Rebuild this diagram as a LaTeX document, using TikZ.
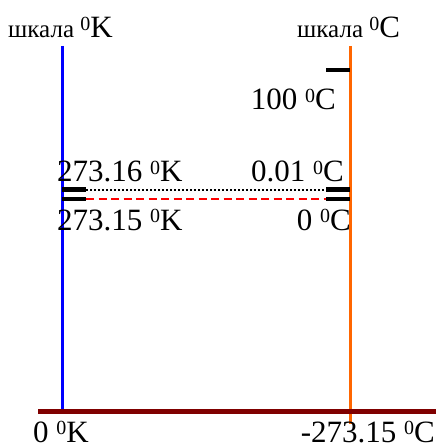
\documentclass[tikz,border=0pt]{standalone}
\usepackage{fontspec}
\setmainfont{Liberation Serif}
\newcommand{\supo}{\raisebox{7.5pt}{\fontsize{20}{20}\selectfont 0}}
\begin{document}
\begin{tikzpicture}[x=1pt,y=-1pt,
  every node/.style={inner sep=0pt,font=\fontsize{31}{33}\selectfont},
  lbl/.style={anchor=base west},
  lblr/.style={anchor=base east},
  ttl/.style={anchor=base west,font=\fontsize{25}{27}\selectfont},
  tick/.style={line width=4pt,black}]
\definecolor{scaleorange}{RGB}{255,102,0}
\definecolor{barred}{RGB}{128,0,0}
\useasboundingbox (0,0) rectangle (436,446);
\coordinate (kTop) at (62,46);
\coordinate (kBot) at (62,410);
\coordinate (cTop) at (350,46);
\coordinate (cBot) at (350,424);
\coordinate (barL) at (38,411.5);
\coordinate (barR) at (436,411.5);
\draw[line width=3pt,blue] (kTop) -- (kBot);
\draw[line width=3pt,scaleorange] (cTop) -- (cBot);
\draw[line width=5pt,barred] (barL) -- (barR);
% ticks
\coordinate (hundredA) at (326,70);
\coordinate (hundredB) at (350,70);
\draw[tick] (hundredA) -- (hundredB);
\coordinate (kTripA) at (62,189.5);
\coordinate (kTripB) at (86,189.5);
\coordinate (cTripA) at (326,189.5);
\coordinate (cTripB) at (350,189.5);
\coordinate (kMeltA) at (62,198.5);
\coordinate (kMeltB) at (86,198.5);
\coordinate (cMeltA) at (326,198.5);
\coordinate (cMeltB) at (350,198.5);
\draw[tick] (kTripA) -- (kTripB);
\draw[tick] (cTripA) -- (cTripB);
\draw[tick] (kMeltA) -- (kMeltB);
\draw[tick] (cMeltA) -- (cMeltB);
\draw[line width=2pt,dash pattern=on 2pt off 2pt] (kTripB) -- (cTripA);
\draw[line width=2pt,red,dash pattern=on 8pt off 4.5pt] (kMeltB) -- (cMeltA);
% labels
\node[ttl] (kTitle) at (8,38) {шкала \supo\fontsize{31}{33}\selectfont K};
\node[ttl] (cTitle) at (297,38) {шкала \supo\fontsize{31}{33}\selectfont C};
\node[lblr] (hundred) at (336,110) {100 \supo C};
\node[lbl] (kTrip) at (57,182) {273.16 \supo K};
\node[lblr] (cTrip) at (344,182) {0.01 \supo C};
\node[lbl] (kMelt) at (57,230) {273.15 \supo K};
\node[lblr] (cMelt) at (351,230) {0 \supo C};
\node[lbl] (kZero) at (33,442) {0 \supo K};
\node[lblr] (cZero) at (435,442) {-273.15 \supo C};
\end{tikzpicture}
\end{document}
